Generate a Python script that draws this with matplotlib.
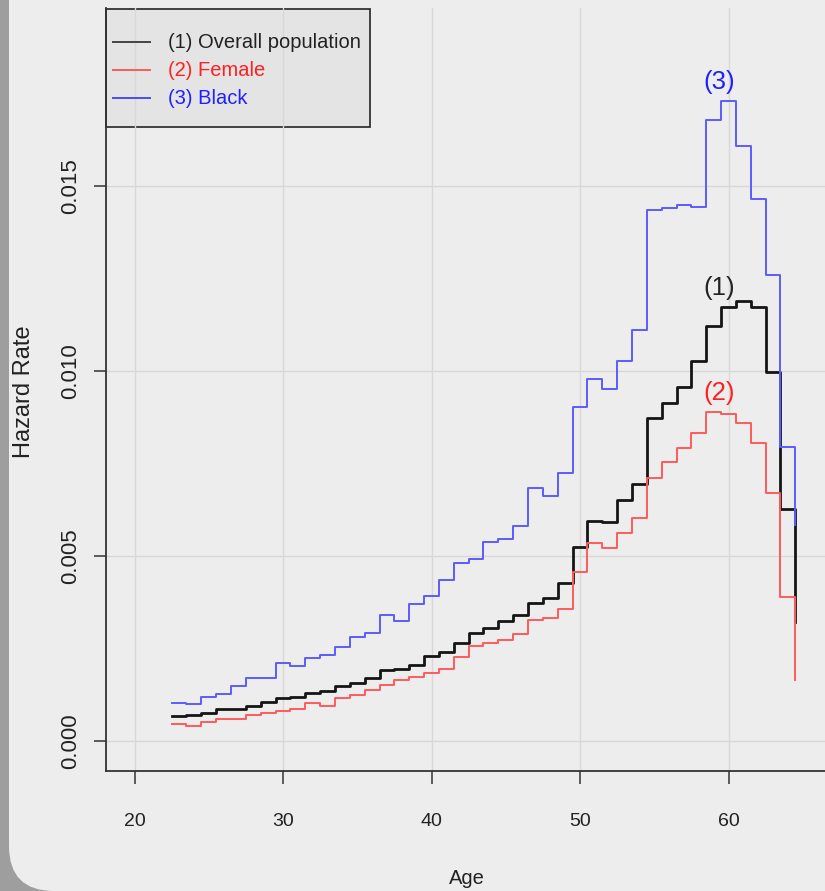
import matplotlib
matplotlib.use('Agg')
import matplotlib.pyplot as plt
from matplotlib.patches import FancyBboxPatch, Rectangle
import numpy as np

plt.rcParams['font.family'] = ['Liberation Sans', 'DejaVu Sans']

# bin edges (age), step values start at each edge; last value is the final drop
age_edges = np.arange(22.5, 65.0, 1.0)

overall = [0.00067, 0.00069, 0.00077, 0.00086, 0.00086, 0.00096, 0.00106, 0.00116,
           0.00120, 0.00131, 0.00134, 0.00148, 0.00157, 0.00169, 0.00192, 0.00196,
           0.00206, 0.00230, 0.00240, 0.00265, 0.00292, 0.00305, 0.00325, 0.00340,
           0.00373, 0.00387, 0.00428, 0.00525, 0.00595, 0.00591, 0.00651, 0.00695,
           0.00872, 0.00914, 0.00956, 0.01026, 0.01122, 0.01173, 0.01188, 0.01174,
           0.00997, 0.00627, 0.00322]

female = [0.00045, 0.00040, 0.00051, 0.00060, 0.00060, 0.00071, 0.00075, 0.00081,
          0.00086, 0.00103, 0.00095, 0.00116, 0.00124, 0.00138, 0.00151, 0.00164,
          0.00173, 0.00185, 0.00195, 0.00228, 0.00257, 0.00265, 0.00274, 0.00290,
          0.00328, 0.00332, 0.00358, 0.00458, 0.00534, 0.00521, 0.00563, 0.00602,
          0.00710, 0.00755, 0.00791, 0.00833, 0.00888, 0.00884, 0.00859, 0.00805,
          0.00669, 0.00390, 0.00165]

black = [0.00104, 0.00099, 0.00118, 0.00128, 0.00149, 0.00169, 0.00169, 0.00212,
         0.00204, 0.00225, 0.00232, 0.00253, 0.00282, 0.00293, 0.00341, 0.00325,
         0.00370, 0.00392, 0.00435, 0.00480, 0.00493, 0.00539, 0.00546, 0.00582,
         0.00685, 0.00661, 0.00724, 0.00904, 0.00979, 0.00952, 0.01028, 0.01110,
         0.01435, 0.01440, 0.01449, 0.01444, 0.01677, 0.01731, 0.01608, 0.01464,
         0.01259, 0.00795, 0.00583]

labels = ['(1) Overall population', '(2) Female', '(3) Black']
short_labels = ['(1)', '(2)', '(3)']
label_pos = [(59.35, 0.01224), (59.35, 0.00940), (59.35, 0.01781)]

xticks = [20, 30, 40, 50, 60]
yticks = [0.000, 0.005, 0.010, 0.015]

line_cols = ['#151515', '#ff5a5a', '#5c5cff']
text_cols = ['#222222', '#ff2020', '#2020ff']
leg_line_cols = ['#444444', '#ff5a5a', '#4a4aff']
lws = [2.0, 1.4, 1.4]

W, H = 825, 891
fig = plt.figure(figsize=(W / 100, H / 100), dpi=100)
fig.patch.set_facecolor('#9e9e9e')

# light panel with rounded bottom-left corner
panel = FancyBboxPatch((9, 0), 1200, 1200, boxstyle='round,pad=0,rounding_size=45',
                       transform=None, facecolor='#ededed', edgecolor='none', zorder=-10)
fig.patches.append(panel)

xmin, xmax = 18.08, 68.0
px_per_year = 14.85
ax_left, ax_bottom, ax_top = 106, 771, 8
ax_w = (xmax - xmin) * px_per_year
ax_h = ax_bottom - ax_top
ax = fig.add_axes([ax_left / W, 1 - ax_bottom / H, ax_w / W, ax_h / H])
ax.set_facecolor('#ededed')
ax.set_xlim(xmin, xmax)
ax.set_ylim(-0.00081, 0.01981)


def pix(px, py):
    # image pixel -> axes fraction
    return (px - ax_left) / ax_w, (ax_bottom - py) / ax_h


ax.grid(True, color='#d8d8d8', linewidth=1.0)
ax.set_axisbelow(True)

for vals, c, lw in zip([overall, female, black], line_cols, lws):
    ax.step(age_edges, vals, where='post', color=c, linewidth=lw, zorder=3)

for (x, y), t, c in zip(label_pos, short_labels, text_cols):
    ax.text(x, y, t, color=c, fontsize=18.5, ha='center', va='center', zorder=4)

ax.spines['top'].set_visible(False)
ax.spines['right'].set_visible(False)
for s in ['left', 'bottom']:
    ax.spines[s].set_color('#333333')
    ax.spines[s].set_linewidth(1.3)

ax.set_xticks(xticks)
ax.set_xticklabels([str(v) for v in xticks])
ax.set_yticks(yticks)
ax.set_yticklabels(['%.3f' % v for v in yticks], rotation=90, va='center')
ax.tick_params(axis='both', length=9, width=1.1, color='#333333', labelcolor='#222222')
ax.tick_params(axis='x', pad=21, labelsize=14)
ax.tick_params(axis='y', pad=9, labelsize=16)

ax.set_xlabel('Age', fontsize=14.5, color='#222222')
ax.xaxis.set_label_coords(*pix(467, 878))
ax.xaxis.label.set_va('center')
ax.set_ylabel('Hazard Rate', fontsize=17, color='#222222')
ax.yaxis.set_label_coords(*pix(24, 392))
ax.yaxis.label.set_va('center')

# legend box (grid lines show through it, as in the original)
x0, y0 = pix(106, 127)
x1, y1 = pix(370, 9)
ax.add_patch(Rectangle((x0, y0), x1 - x0, y1 - y0, transform=ax.transAxes,
                       facecolor='#e4e4e4', edgecolor='#333333', linewidth=1.3,
                       zorder=0.2, clip_on=False))
for i, (lab, lc, tc) in enumerate(zip(labels, leg_line_cols, text_cols)):
    ry = 42 + 28 * i
    lx0, ly = pix(113, ry)
    lx1, _ = pix(150, ry)
    ax.plot([lx0, lx1], [ly, ly], color=lc, linewidth=1.4, transform=ax.transAxes,
            zorder=3)
    tx, ty = pix(168, ry)
    ax.text(tx, ty, lab, color=tc, fontsize=14.5, ha='left', va='center',
            transform=ax.transAxes, zorder=3)

fig.savefig('out.png', dpi=100, facecolor=fig.get_facecolor())
